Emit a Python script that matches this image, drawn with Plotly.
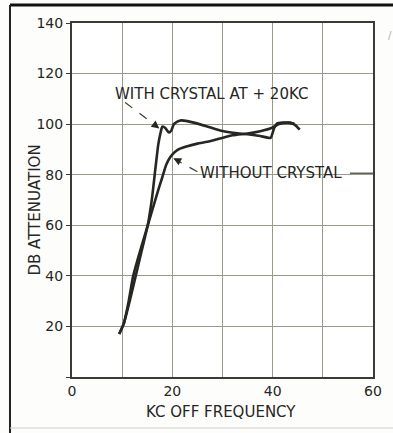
import plotly.graph_objects as go

# ---- data ----
crystal_x = [9.4, 10.3, 11.5, 12.7, 13.9, 15.1, 15.9, 16.6, 17.2, 17.7, 18.0, 18.6, 19.3, 19.8, 20.3, 21.0, 21.8, 23.0, 24.5, 26.8, 30.0, 32.5, 35.0, 37.5, 39.6, 40.3, 40.9, 42.0, 43.5, 44.5, 45.4]
crystal_y = [17, 21, 30, 40, 50, 60, 70, 82, 92, 97, 99, 98.5, 96.7, 97.5, 100.0, 101.0, 101.5, 101.2, 100.5, 99.2, 97.3, 96.5, 96.0, 95.3, 94.6, 98.5, 100.3, 100.6, 100.6, 99.6, 97.8]

without_x = [9.4, 10.3, 11.3, 12.2, 13.6, 15.1, 16.3, 17.2, 18.0, 18.8, 19.6, 20.5, 21.5, 23.0, 25.0, 27.0, 29.5, 32.0, 35.0, 37.5, 40.0, 41.4, 43.0, 44.3]
without_y = [17, 21, 30, 40, 50, 60, 68, 74, 79, 84, 87, 89, 90.3, 91.3, 92.3, 93.0, 94.3, 95.6, 96.3, 97.2, 98.7, 100.2, 100.5, 100.2]

x_ticks = [0, 10, 20, 30, 40, 50, 60]
x_tick_text = ["0", "", "20", "", "40", "", "60"]
y_ticks = [0, 20, 40, 60, 80, 100, 120, 140]
y_tick_text = ["", "20", "40", "60", "80", "100", "120", "140"]

label_crystal = "WITH CRYSTAL AT + 20KC"
label_without = "WITHOUT CRYSTAL"
x_title = "KC OFF FREQUENCY"
y_title = "DB ATTENUATION"

INK = "#262622"
GRID = "#9a9a8c"
FONT = "DejaVu Sans"

fig = go.Figure()
fig.add_trace(go.Scatter(x=without_x, y=without_y, mode="lines",
                         line=dict(color=INK, width=2.6, shape="spline", smoothing=0.6),
                         hoverinfo="skip", showlegend=False))
fig.add_trace(go.Scatter(x=crystal_x, y=crystal_y, mode="lines",
                         line=dict(color=INK, width=2.6, shape="spline", smoothing=0.5),
                         hoverinfo="skip", showlegend=False))

# labels
fig.add_annotation(x=8.2, y=111.8, xref="x", yref="y", text=label_crystal, showarrow=False,
                   xanchor="left", yanchor="middle", font=dict(family=FONT, size=15, color=INK))
fig.add_annotation(x=25.2, y=80.6, xref="x", yref="y", text=label_without, showarrow=False,
                   xanchor="left", yanchor="middle", font=dict(family=FONT, size=15, color=INK))

# dashed leader lines
fig.add_shape(type="line", x0=10.6, y0=108.6, x1=17.2, y1=98.6, xref="x", yref="y",
              line=dict(color="#3a3a36", width=1.2, dash="dash"))
fig.add_shape(type="line", x0=25.0, y0=81.2, x1=20.4, y1=86.2, xref="x", yref="y",
              line=dict(color="#3a3a36", width=1.2, dash="dash"))
# solid line from label to frame
fig.add_shape(type="line", x0=55.4, y0=80.6, x1=60, y1=80.6, xref="x", yref="y",
              line=dict(color="#3a3a36", width=1.2))
# arrowheads
fig.add_annotation(x=17.4, y=98.3, xref="x", yref="y", ax=-7, ay=-5.5, text="", showarrow=True,
                   arrowhead=2, arrowsize=1.3, arrowwidth=1.2, arrowcolor=INK)
fig.add_annotation(x=20.2, y=86.5, xref="x", yref="y", ax=7, ay=3.5, text="", showarrow=True,
                   arrowhead=2, arrowsize=1.3, arrowwidth=1.2, arrowcolor=INK)

# axis titles
fig.add_annotation(x=0.495, y=-0.098, xref="paper", yref="paper", text=x_title, showarrow=False,
                   xanchor="center", yanchor="middle", font=dict(family=FONT, size=15, color=INK))
fig.add_annotation(x=-0.123, y=0.473, xref="paper", yref="paper", text=y_title, showarrow=False,
                   textangle=-90, xanchor="center", yanchor="middle",
                   font=dict(family=FONT, size=15, color=INK))
# stray cropped glyph at right edge
fig.add_annotation(x=1.058, y=0.985, xref="paper", yref="paper", text="/", showarrow=False,
                   xanchor="center", font=dict(family=FONT, size=10, color="#b0b0a8"))

# outer frame of the clipping
fig.add_shape(type="line", xref="paper", yref="paper", x0=-0.206, x1=1.08, y0=1.051, y1=1.051,
              line=dict(color="#111", width=3))
fig.add_shape(type="line", xref="paper", yref="paper", x0=-0.206, x1=-0.206, y0=1.051, y1=-0.16,
              line=dict(color="#222", width=2))
fig.add_shape(type="line", xref="paper", yref="paper", x0=-0.206, x1=1.08, y0=-0.144, y1=-0.144,
              line=dict(color="#cfcfc8", width=1))

fig.update_layout(
    width=393, height=433,
    margin=dict(l=72, r=20, t=23, b=56),
    paper_bgcolor="#fdfdfb", plot_bgcolor="#ffffff",
    showlegend=False,
)
fig.update_xaxes(range=[0, 60], tickmode="array", tickvals=x_ticks, ticktext=x_tick_text,
                 showgrid=True, gridcolor=GRID, gridwidth=1, zeroline=False,
                 showline=True, linecolor="#3a3a36", linewidth=2, mirror=True,
                 ticks="", tickfont=dict(family=FONT, size=14, color=INK))
fig.update_yaxes(range=[0, 140], tickmode="array", tickvals=y_ticks, ticktext=y_tick_text,
                 showgrid=True, gridcolor=GRID, gridwidth=1, zeroline=False,
                 showline=True, linecolor="#3a3a36", linewidth=2, mirror=True,
                 ticks="outside", ticklen=4, tickcolor="#3a3a36",
                 tickfont=dict(family=FONT, size=14, color=INK))

fig.write_html("out.html", config={"displayModeBar": False},
               post_script="document.body.style.margin='0';document.body.style.overflow='hidden';")
